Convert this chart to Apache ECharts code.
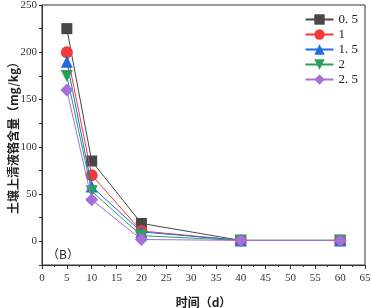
<!DOCTYPE html>
<html>
<head>
<meta charset="utf-8">
<script src="https://cdn.jsdelivr.net/npm/echarts@6/dist/echarts.min.js"></script>
<style>
	html, body { margin: 0; padding: 0; background: #fff; }
	#chart { width: 371px; height: 308px; }
</style>
</head>
<body>
<div id="chart"></div>
<script>
	// 时间（d）
	var days = [5, 10, 20, 40, 60];

	// 各系列数值
	var names = ["0. 5", "1", "1. 5", "2", "2. 5"];
	var v05 = [225, 85, 19, 1, 1];
	var v10 = [200, 70, 11, 1, 1];
	var v15 = [190, 58, 10, 1, 1];
	var v20 = [175, 53, 6, 1, 1];
	var v25 = [160, 44, 2, 1, 1];

	var colors = ["#474747", "#f23a3a", "#1f6de0", "#2a9e5c", "#a66fdc"];
	var symbols = ["rect", "circle", "triangle", "triangle", "diamond"];
	var sizes = [11, 12, 12, 12, 13];
	var values = [v05, v10, v15, v20, v25];

	var serif = "'Liberation Serif', 'DejaVu Serif', serif";
	var cjk = "'Noto Sans CJK SC', sans-serif";

	var series = [];
	for(var i=0; i<names.length; i++)
	{
		var data = [];
		for(var j=0; j<days.length; j++)
			data.push([days[j], values[i][j]]);

		var s =
		{
			name: names[i],
			type: "line",
			data: data,
			symbol: symbols[i],
			symbolSize: sizes[i],
			lineStyle: { width: 1, color: colors[i] },
			itemStyle: { color: colors[i] },
			z: 2 + i
		};

		// 倒三角
		if(i == 3)
			s.symbolRotate = 180;

		series.push(s);
	}

	var chart = echarts.init(document.getElementById("chart"));

	chart.setOption(
	{
		animation: false,
		backgroundColor: "#fff",
		color: colors,
		grid:
		{
			left: 42, right: 6, top: 5, bottom: 43,
			outerBoundsMode: "none",
			containLabel: false,
			show: true, borderColor: "#333", borderWidth: 1
		},
		legend:
		{
			right: 8, top: 8,
			orient: "vertical",
			itemWidth: 28, itemHeight: 13, itemGap: 2,
			textStyle: { fontFamily: serif, fontSize: 13, color: "#222" },
			data: names
		},
		xAxis:
		{
			type: "value",
			min: 0, max: 65, interval: 5,
			name: "时间（d）",
			nameLocation: "middle",
			nameGap: 31,
			nameMoveOverlap: false,
			nameTextStyle: { fontFamily: cjk, fontSize: 12, fontWeight: "bold", color: "#222" },
			axisLine: { onZero: false, lineStyle: { color: "#333" } },
			axisTick: { length: 4, lineStyle: { color: "#333" } },
			minorTick: { show: true, splitNumber: 2, length: 2, lineStyle: { color: "#333" } },
			axisLabel: { fontFamily: serif, fontSize: 11, color: "#333", margin: 8 },
			splitLine: { show: false }
		},
		yAxis:
		{
			type: "value",
			min: -25, max: 250, interval: 25,
			name: "土壤上清液铬含量（mg/kg）",
			nameLocation: "middle",
			nameGap: 23,
			nameMoveOverlap: false,
			nameTextStyle: { fontFamily: cjk, fontSize: 12, fontWeight: "bold", color: "#222" },
			axisLine: { show: true, onZero: false, lineStyle: { color: "#333" } },
			axisTick: { length: 3, lineStyle: { color: "#333" } },
			axisLabel:
			{
				fontFamily: serif, fontSize: 11, color: "#333", margin: 5,
				formatter: function(v)
				{
					return (v % 50 === 0 ? v : "");
				}
			},
			splitLine: { show: false }
		},
		graphic:
		[
			{
				type: "text",
				left: 47, top: 248,
				style: { text: "（B）", fontFamily: cjk, fontSize: 12, fill: "#222" }
			}
		],
		series: series
	});
</script>
</body>
</html>
